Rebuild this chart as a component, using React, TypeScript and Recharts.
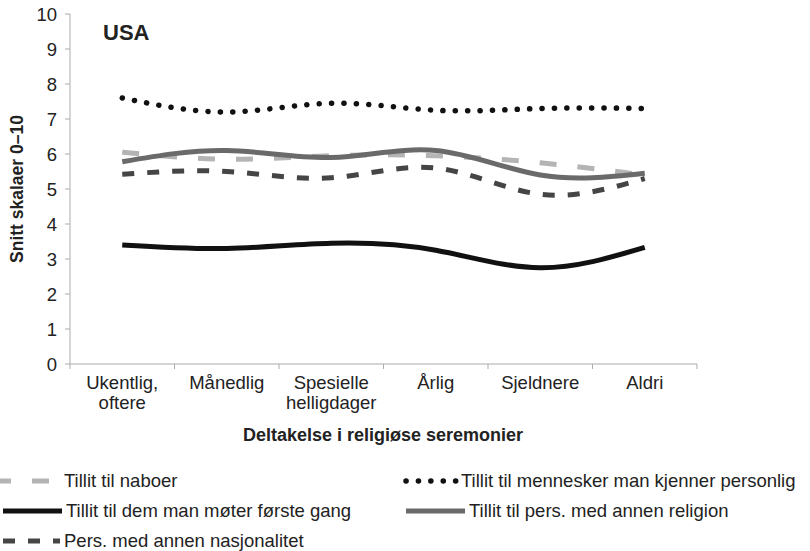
import { LineChart, Line, XAxis, YAxis } from 'recharts'

// ── Data ──────────────────────────────────────────────────────────────────────

const categories = [
  'Ukentlig,\noftere',
  'Månedlig',
  'Spesielle\nhelligdager',
  'Årlig',
  'Sjeldnere',
  'Aldri',
]

const naboer       = [6.05, 5.85, 5.95, 5.95, 5.75, 5.4]
const kjennerPers  = [7.6, 7.2, 7.45, 7.25, 7.3, 7.3]
const forsteGang   = [3.4, 3.3, 3.45, 3.25, 2.75, 3.33]
const annenRelig   = [5.78, 6.1, 5.9, 6.1, 5.4, 5.45]
const annenNasjon  = [5.42, 5.5, 5.32, 5.6, 4.85, 5.3]

const yTicks = [0, 1, 2, 3, 4, 5, 6, 7, 8, 9, 10]

const data = categories.map((cat, i) => ({
  cat,
  naboer:      naboer[i],
  kjennerPers: kjennerPers[i],
  forsteGang:  forsteGang[i],
  annenRelig:  annenRelig[i],
  annenNasjon: annenNasjon[i],
}))

// ── Layout ────────────────────────────────────────────────────────────────────

const W = 810
const H = 551
const PLOT_LEFT   = 70
const PLOT_RIGHT  = 697
const PLOT_TOP    = 14
const PLOT_BOTTOM = 364
const X_AXIS_H    = 50
const BAND = (PLOT_RIGHT - PLOT_LEFT) / categories.length

const FONT = '"Liberation Sans", Arial, sans-serif'
const AXIS = '#ababab'
const TEXT = '#222'
const FS   = 18.5

const STYLES = {
  naboer:      { stroke: '#b4b4b4', strokeWidth: 5, strokeDasharray: '17 21' },
  kjennerPers: { stroke: '#111', strokeWidth: 5.5, strokeDasharray: '0.1 12.3', strokeLinecap: 'round' as const },
  forsteGang:  { stroke: '#111', strokeWidth: 5 },
  annenRelig:  { stroke: '#6a6a6a', strokeWidth: 5 },
  annenNasjon: { stroke: '#454545', strokeWidth: 5, strokeDasharray: '12 13' },
}

// ── Custom x tick: multi-line label + tick marks between categories ─────────

function CatTick({ x, payload, index }: any) {
  const lines = String(payload.value).split('\n')
  return (
    <g>
      {index === 0 && (
        <line x1={x - BAND / 2} x2={x - BAND / 2} y1={PLOT_BOTTOM} y2={PLOT_BOTTOM + 5} stroke={AXIS} />
      )}
      <line x1={x + BAND / 2} x2={x + BAND / 2} y1={PLOT_BOTTOM} y2={PLOT_BOTTOM + 5} stroke={AXIS} />
      <text x={x} y={PLOT_BOTTOM + 25} textAnchor="middle" fontSize={FS} fontFamily={FONT} fill={TEXT}>
        {lines.map((l, i) => (
          <tspan key={i} x={x} dy={i === 0 ? 0 : 20}>{l}</tspan>
        ))}
      </text>
    </g>
  )
}

// ── Legend (drawn as overlay, Excel-style two columns) ───────────────────────

const legendItems = [
  { key: 'naboer',      label: 'Tillit til naboer',                          x: 0,   y: 481, len: 60 },
  { key: 'kjennerPers', label: 'Tillit til mennesker man kjenner personlig', x: 403, y: 481, len: 54 },
  { key: 'forsteGang',  label: 'Tillit til dem man møter første gang',       x: 0,   y: 511, len: 62 },
  { key: 'annenRelig',  label: 'Tillit til pers. med annen religion',        x: 403, y: 511, len: 62 },
  { key: 'annenNasjon', label: 'Pers. med annen nasjonalitet',               x: 0,   y: 541, len: 60 },
] as const

function Overlay() {
  return (
    <svg width={W} height={H} style={{ position: 'absolute', left: 0, top: 0, pointerEvents: 'none' }}>
      <text x={103} y={40} fontSize={22} fontWeight={700} fontFamily={FONT} fill={TEXT}>USA</text>
      <text
        x={0}
        y={0}
        transform={`translate(23, ${(PLOT_TOP + PLOT_BOTTOM) / 2}) rotate(-90)`}
        textAnchor="middle"
        fontSize={17.5}
        fontWeight={700}
        fontFamily={FONT}
        fill={TEXT}
      >
        Snitt skalaer 0–10
      </text>
      <text x={383} y={441} textAnchor="middle" fontSize={18} fontWeight={700} fontFamily={FONT} fill={TEXT}>
        Deltakelse i religiøse seremonier
      </text>

      {legendItems.map((it) => {
        const s = STYLES[it.key]
        const dashed = it.key === 'naboer'
        return (
          <g key={it.key}>
            <line
              x1={dashed ? it.x - 6 : it.x + 3}
              x2={it.x + it.len}
              y1={it.y}
              y2={it.y}
              {...s}
            />
            <text x={it.x + it.len + 4} y={it.y + 6} fontSize={FS} fontFamily={FONT} fill={TEXT}>
              {it.label}
            </text>
          </g>
        )
      })}
    </svg>
  )
}

// ── Chart ─────────────────────────────────────────────────────────────────────

export default function App() {
  return (
    <div style={{ position: 'absolute', left: 0, top: 0, width: W, height: H, background: '#fff' }}>
      <LineChart
        width={W}
        height={H}
        data={data}
        margin={{ top: PLOT_TOP, right: W - PLOT_RIGHT, bottom: H - PLOT_BOTTOM - X_AXIS_H, left: 0 }}
      >
        <XAxis
          dataKey="cat"
          scale="band"
          interval={0}
          tick={<CatTick />}
          tickLine={false}
          tickSize={0}
          tickMargin={0}
          axisLine={{ stroke: AXIS }}
          height={X_AXIS_H}
        />
        <YAxis
          type="number"
          domain={[0, 10]}
          ticks={yTicks}
          interval={0}
          width={PLOT_LEFT}
          tick={{ fontSize: FS, fontFamily: FONT, fill: TEXT }}
          tickSize={5}
          tickMargin={8}
          tickLine={{ stroke: AXIS }}
          axisLine={{ stroke: AXIS }}
        />

        <Line type="natural" dataKey="naboer"      dot={false} activeDot={false} isAnimationActive={false} {...STYLES.naboer} />
        <Line type="natural" dataKey="annenNasjon" dot={false} activeDot={false} isAnimationActive={false} {...STYLES.annenNasjon} />
        <Line type="natural" dataKey="annenRelig"  dot={false} activeDot={false} isAnimationActive={false} {...STYLES.annenRelig} />
        <Line type="natural" dataKey="kjennerPers" dot={false} activeDot={false} isAnimationActive={false} {...STYLES.kjennerPers} />
        <Line type="natural" dataKey="forsteGang"  dot={false} activeDot={false} isAnimationActive={false} {...STYLES.forsteGang} />
      </LineChart>
      <Overlay />
    </div>
  )
}
